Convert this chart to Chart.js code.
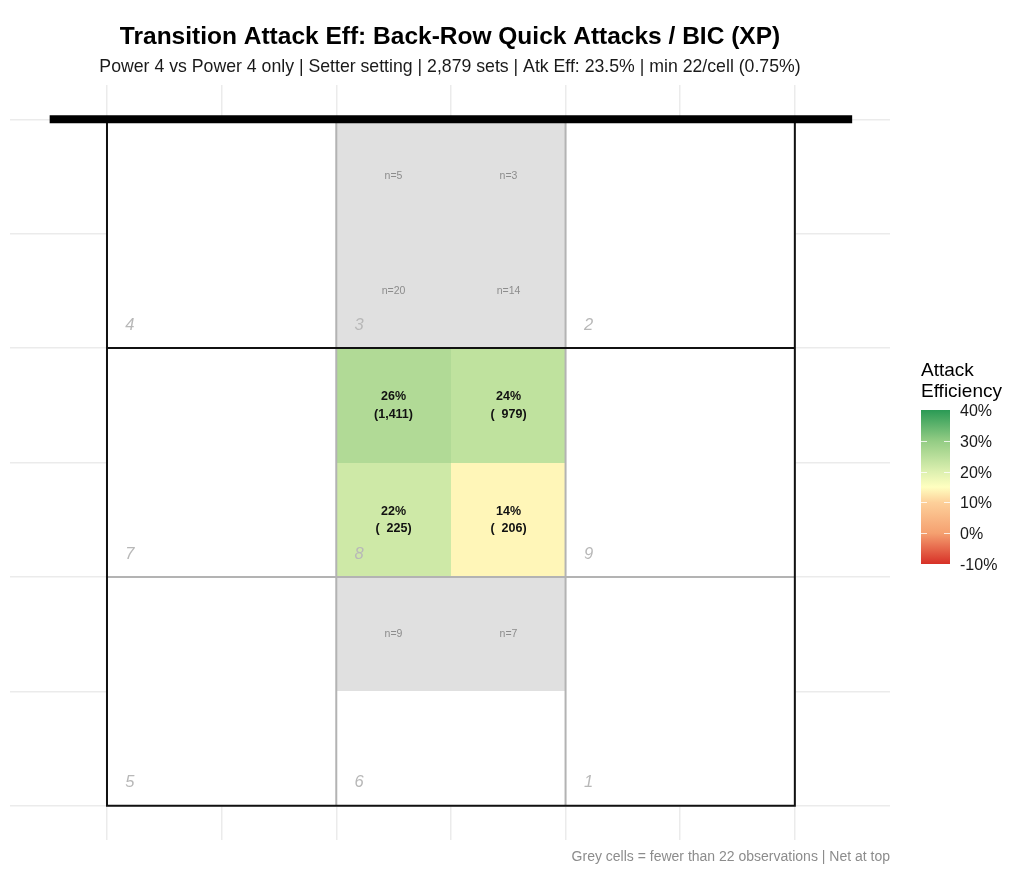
<!DOCTYPE html>
<html>
<head>
<meta charset="utf-8">
<title>Transition Attack Eff</title>
<script src="https://cdn.jsdelivr.net/npm/chart.js@4.4.1/dist/chart.umd.min.js"></script>
<style>
  html, body { margin: 0; padding: 0; background: #ffffff; }
  canvas { display: block; }
</style>
</head>
<body>
<canvas id="court" width="1024" height="890"></canvas>
<script>
// zones of the court (each zone = 2x2 half cells), net at row 0
const zoneNames = ['4', '3', '2', '7', '8', '9', '5', '6', '1'];
const zoneCol = [0, 2, 4, 0, 2, 4, 0, 2, 4];
const zoneRow = [0, 0, 0, 2, 2, 2, 4, 4, 4];

// half-zone cells with data
const cellCol = [2, 3, 2, 3, 2, 3, 2, 3, 2, 3];
const cellRow = [0, 0, 1, 1, 2, 2, 3, 3, 4, 4];
const cellN = [5, 3, 20, 14, 1411, 979, 225, 206, 9, 7];
const cellEff = [null, null, null, null, 26, 24, 22, 14, null, null];
const minN = 22;

// colour scale
const legendTicks = [40, 30, 20, 10, 0, -10];
const colorStops = [-10, 0, 10, 15, 20, 30, 40];
const colorHex = ['#d73027', '#f5a070', '#fdd09a', '#ffffc0', '#ddf0b0', '#93cc84', '#2a9a55'];

const FONT = '"Liberation Sans", Arial, sans-serif';

function hexToRgb(h) {
  return [parseInt(h.slice(1, 3), 16), parseInt(h.slice(3, 5), 16), parseInt(h.slice(5, 7), 16)];
}

function effColor(v) {
  if (v <= colorStops[0]) return colorHex[0];
  for (let i = 1; i < colorStops.length; i++) {
    if (v <= colorStops[i]) {
      const t = (v - colorStops[i - 1]) / (colorStops[i] - colorStops[i - 1]);
      const a = hexToRgb(colorHex[i - 1]), b = hexToRgb(colorHex[i]);
      const c = a.map((x, k) => Math.round(x + (b[k] - x) * t));
      return `rgb(${c[0]},${c[1]},${c[2]})`;
    }
  }
  return colorHex[colorHex.length - 1];
}

function fmtN(n) {
  return n.toLocaleString('en-US').padStart(5, ' ');
}

const courtPlugin = {
  id: 'court',
  beforeDatasetsDraw(chart) {
    const ctx = chart.ctx;
    const xs = chart.scales.x, ys = chart.scales.y;
    const px = v => xs.getPixelForValue(v);
    const py = v => ys.getPixelForValue(v);
    ctx.save();

    // court floor covers the grid
    ctx.fillStyle = '#ffffff';
    ctx.fillRect(px(0), py(0), px(6) - px(0), py(6) - py(0));

    // cells (rounded edges so neighbours meet without seams)
    cellCol.forEach((c, i) => {
      const x0 = Math.round(px(c)), x1 = Math.round(px(c + 1));
      const y0 = Math.round(py(cellRow[i])), y1 = Math.round(py(cellRow[i] + 1));
      const enough = cellN[i] >= minN && cellEff[i] !== null;
      ctx.fillStyle = enough ? effColor(cellEff[i]) : '#e0e0e0';
      ctx.fillRect(x0, y0, x1 - x0, y1 - y0);
      const cx = (x0 + x1) / 2, cy = (y0 + y1) / 2;
      ctx.textAlign = 'center';
      ctx.textBaseline = 'middle';
      if (enough) {
        ctx.fillStyle = '#111111';
        ctx.font = 'bold 12.5px ' + FONT;
        ctx.fillText(cellEff[i] + '%', cx, cy - 8.5);
        ctx.fillText('(' + fmtN(cellN[i]) + ')', cx, cy + 9);
      } else {
        ctx.fillStyle = '#8c8c8c';
        ctx.font = '10.5px ' + FONT;
        ctx.fillText('n=' + cellN[i], cx, cy);
      }
    });

    // zone labels
    ctx.fillStyle = '#b8b8b8';
    ctx.font = 'italic 16.5px ' + FONT;
    ctx.textAlign = 'center';
    ctx.textBaseline = 'middle';
    zoneNames.forEach((z, i) => {
      ctx.fillText(z, px(zoneCol[i] + 0.2), py(zoneRow[i] + 2 - 0.2));
    });

    // grey inner lines
    ctx.strokeStyle = '#b3b3b3';
    ctx.lineWidth = 2;
    ctx.beginPath();
    [2, 4].forEach(c => { ctx.moveTo(px(c), py(0)); ctx.lineTo(px(c), py(6)); });
    ctx.moveTo(px(0), py(4)); ctx.lineTo(px(6), py(4));
    ctx.stroke();

    // black court lines
    ctx.strokeStyle = '#111111';
    ctx.lineWidth = 2;
    ctx.beginPath();
    ctx.rect(px(0), py(0), px(6) - px(0), py(6) - py(0));
    ctx.moveTo(px(0), py(2)); ctx.lineTo(px(6), py(2));
    ctx.stroke();

    // net
    ctx.lineWidth = 8;
    ctx.strokeStyle = '#000000';
    ctx.beginPath();
    ctx.moveTo(px(-0.5), py(0)); ctx.lineTo(px(6.5), py(0));
    ctx.stroke();
    ctx.restore();
  },
  afterDraw(chart) {
    const ctx = chart.ctx;
    const area = chart.chartArea;
    const mid = (area.left + area.right) / 2;
    ctx.save();
    ctx.textAlign = 'center';
    ctx.textBaseline = 'middle';
    ctx.fillStyle = '#000000';
    ctx.font = 'bold 24.5px ' + FONT;
    ctx.fillText('Transition Attack Eff: Back-Row Quick Attacks / BIC (XP)', mid, 37);
    ctx.fillStyle = '#1a1a1a';
    ctx.font = '17.7px ' + FONT;
    ctx.fillText('Power 4 vs Power 4 only | Setter setting | 2,879 sets | Atk Eff: 23.5% | min 22/cell (0.75%)', mid, 67);

    // caption
    ctx.textAlign = 'right';
    ctx.fillStyle = '#8c8c8c';
    ctx.font = '14px ' + FONT;
    ctx.fillText('Grey cells = fewer than 22 observations | Net at top', area.right, 857);

    // colour bar legend
    const bx = 921, bw = 29, top = 410, bottom = 564;
    const lo = legendTicks[legendTicks.length - 1], hi = legendTicks[0];
    const ly = v => bottom - (v - lo) / (hi - lo) * (bottom - top);
    const grad = ctx.createLinearGradient(0, bottom, 0, top);
    colorStops.forEach((s, i) => grad.addColorStop((s - lo) / (hi - lo), colorHex[i]));
    ctx.fillStyle = grad;
    ctx.fillRect(bx, top, bw, bottom - top);
    ctx.strokeStyle = 'rgba(255,255,255,0.8)';
    ctx.lineWidth = 1;
    ctx.beginPath();
    legendTicks.slice(1, -1).forEach(t => {
      const y = Math.round(ly(t)) + 0.5;
      ctx.moveTo(bx, y); ctx.lineTo(bx + 6, y);
      ctx.moveTo(bx + bw - 6, y); ctx.lineTo(bx + bw, y);
    });
    ctx.stroke();
    ctx.textAlign = 'left';
    ctx.fillStyle = '#1a1a1a';
    ctx.font = '16px ' + FONT;
    legendTicks.forEach(t => ctx.fillText(t + '%', 960, ly(t) + 1.5));
    ctx.fillStyle = '#000000';
    ctx.font = '19px ' + FONT;
    ctx.fillText('Attack', 921, 371);
    ctx.fillText('Efficiency', 921, 392);
    ctx.restore();
  }
};

new Chart(document.getElementById('court'), {
  type: 'scatter',
  data: {
    datasets: [{
      data: cellCol.map((c, i) => ({ x: c + 0.5, y: cellRow[i] + 0.5 })),
      pointRadius: 0,
      pointHoverRadius: 0
    }]
  },
  options: {
    responsive: false,
    animation: false,
    devicePixelRatio: 1,
    layout: { padding: { left: 10, right: 134, top: 85, bottom: 50 } },
    plugins: {
      legend: { display: false },
      tooltip: { enabled: false }
    },
    scales: {
      x: {
        type: 'linear',
        min: -0.846,
        max: 6.83,
        ticks: { display: false, stepSize: 1, includeBounds: false },
        grid: { color: '#ebebeb', lineWidth: 1.5, drawTicks: false },
        border: { display: false }
      },
      y: {
        type: 'linear',
        reverse: true,
        min: -0.3,
        max: 6.3,
        ticks: { display: false, stepSize: 1, includeBounds: false },
        grid: { color: '#ebebeb', lineWidth: 1.5, drawTicks: false },
        border: { display: false }
      }
    }
  },
  plugins: [courtPlugin]
});
</script>
</body>
</html>
